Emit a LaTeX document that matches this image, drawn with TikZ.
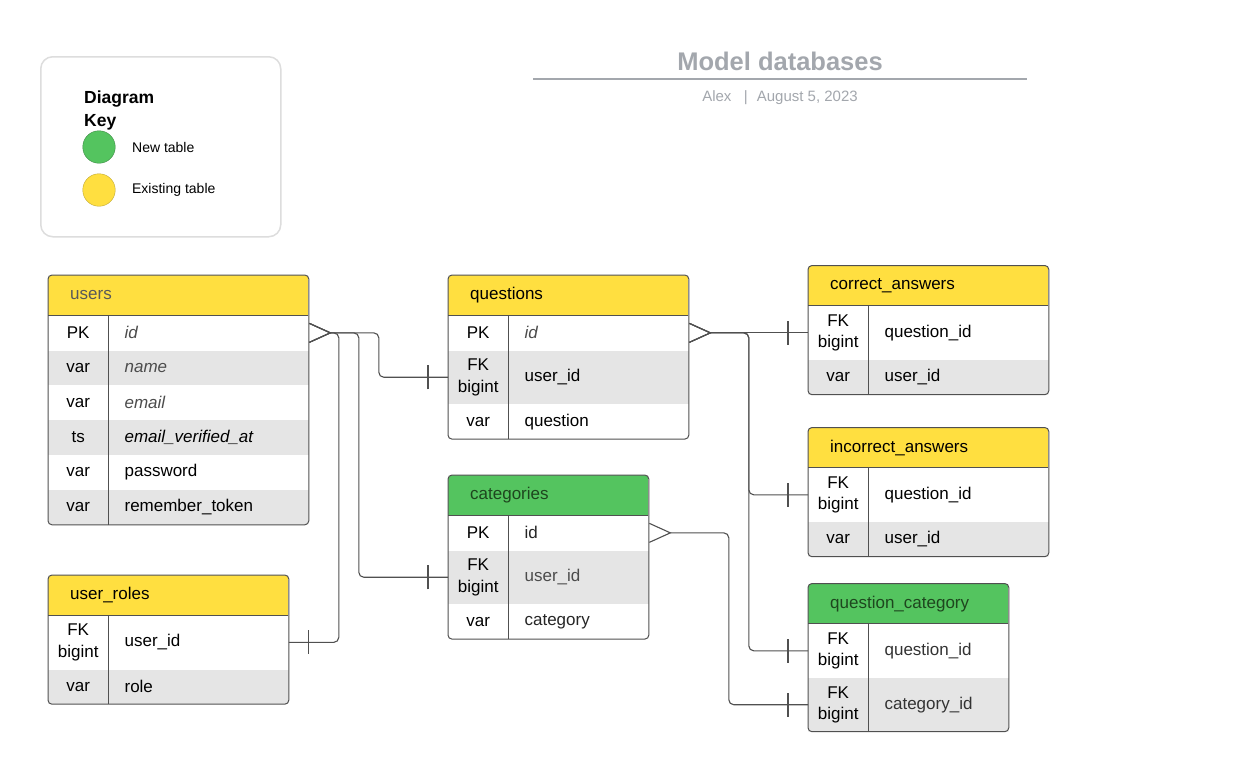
\documentclass[tikz,border=0pt]{standalone}
\usepackage{fontspec}
\setmainfont{Liberation Sans}
\usepackage{xcolor}
\usetikzlibrary{arrows.meta,positioning,decorations.markings}
\definecolor{headyellow}{RGB}{255,223,64}
\definecolor{headgreen}{RGB}{84,196,95}
\definecolor{rowgray}{RGB}{229,229,229}
\definecolor{framegray}{RGB}{80,80,80}
\definecolor{titlegray}{RGB}{163,167,173}
\definecolor{keyborder}{RGB}{221,221,221}
\definecolor{darkgreen}{RGB}{30,70,30}

\begin{document}
\begin{tikzpicture}[x=1pt, y=-1pt,
    headcell/.style={anchor=north west, minimum height=40, inner xsep=22, inner ysep=0, text width=#1, align=left, font=\fontsize{17}{21}\selectfont},
    keycell/.style={minimum width=60, minimum height=34.5, inner sep=0, align=center, font=\fontsize{17}{21.5}\selectfont},
    fieldcell/.style={minimum height=34.5, inner xsep=16, inner ysep=0, text width=#1, align=left, font=\fontsize{17}{21}\selectfont},
    tall/.style={minimum height=53.5},
    grayrow/.style={fill=rowgray},
    rule/.style={draw=framegray, line width=0.9pt},
    frame/.style={draw=framegray, line width=1pt, rounded corners=4pt},
    mask/.style={fill=white, even odd rule},
    link/.style={draw=framegray, line width=1.1pt, rounded corners=5pt},
    many/.style={arrows={Straight Barb[reversed, length=21pt, width=19pt]-}},
    one/.style={postaction={decorate, decoration={markings, mark=at position -20pt with {\draw[arrows=-, framegray, line width=1.1pt] (0,-12pt) -- (0,12pt);}}}},
]
\path[fill=white, use as bounding box] (0,0) rectangle (1247,769);

% ─────────────────────────────────────────
% Title and diagram key
% ─────────────────────────────────────────
\node[font=\bfseries\fontsize{25.5}{30}\selectfont, text=titlegray, anchor=base] (title) at (780,70.7) {Model databases};
\draw[draw=titlegray, line width=1.5pt] (533,79) -- (1027,79);
\node[font=\fontsize{15}{18}\selectfont, text=titlegray, anchor=base] (byline) at (780,101.7) {Alex\hspace{12.5pt}|\hspace{9pt}August 5, 2023};

\node[draw=keyborder, line width=1.5pt, rounded corners=12pt, minimum width=240, minimum height=180, anchor=north west] (key) at (40,56) {};
\node[font=\bfseries\fontsize{17.5}{23}\selectfont, align=left, anchor=north west, inner sep=0] (keytitle) at (84,91) {Diagram\\Key};
\node[circle, fill=headgreen, draw=headgreen!70!black, minimum size=32.5, inner sep=0] (newdot) at (99,147) {};
\node[circle, fill=headyellow, draw=headyellow!75!black, minimum size=32.5, inner sep=0] (olddot) at (99,190) {};
\node[font=\fontsize{14}{17}\selectfont, inner sep=0, right=16.5pt of newdot] (newlbl) {New table};
\node[font=\fontsize{14}{17}\selectfont, inner sep=0, right=16.5pt of olddot] (oldlbl) {Existing table};

% ─────────────────────────────────────────
% users
% ─────────────────────────────────────────
\node[headcell=216pt, fill=headyellow, text=black!65] (users) at (48,275) {users};
\node[keycell] (users-k1) [below right=0pt and 0pt of users.south west] {PK};
\node[keycell, grayrow] (users-k2) [below=0pt of users-k1] {var};
\node[keycell] (users-k3) [below=0pt of users-k2] {var};
\node[keycell, grayrow] (users-k4) [below=0pt of users-k3] {ts};
\node[keycell] (users-k5) [below=0pt of users-k4] {var};
\node[keycell, grayrow] (users-k6) [below=0pt of users-k5] {var};
\node[fieldcell=168pt, text=black!70] (users-f1) [right=0pt of users-k1] {\itshape id};
\node[fieldcell=168pt, grayrow, text=black!70] (users-f2) [right=0pt of users-k2] {\itshape name};
\node[fieldcell=168pt, text=black!70] (users-f3) [right=0pt of users-k3] {\itshape email};
\node[fieldcell=168pt, grayrow] (users-f4) [right=0pt of users-k4] {\itshape email\_verified\_at};
\node[fieldcell=168pt] (users-f5) [right=0pt of users-k5] {password};
\node[fieldcell=168pt, grayrow] (users-f6) [right=0pt of users-k6] {remember\_token};
\fill[mask] (users.north west) rectangle (users-f6.south east) [rounded corners=4pt] (users.north west) rectangle (users-f6.south east);
\draw[rule] (users.south west) -- (users.south east) (users-k1.north east) -- (users-k6.south east);
\draw[frame] (users.north west) rectangle (users-f6.south east);

% ─────────────────────────────────────────
% user_roles
% ─────────────────────────────────────────
\node[headcell=196pt, fill=headyellow] (roles) at (48,575) {user\_roles};
\node[keycell, tall] (roles-k1) [below right=0pt and 0pt of roles.south west] {FK\\bigint};
\node[keycell, grayrow] (roles-k2) [below=0pt of roles-k1] {var};
\node[fieldcell=148pt, tall] (roles-f1) [right=0pt of roles-k1] {user\_id};
\node[fieldcell=148pt, grayrow] (roles-f2) [right=0pt of roles-k2] {role};
\fill[mask] (roles.north west) rectangle (roles-f2.south east) [rounded corners=4pt] (roles.north west) rectangle (roles-f2.south east);
\draw[rule] (roles.south west) -- (roles.south east) (roles-k1.north east) -- (roles-k2.south east);
\draw[frame] (roles.north west) rectangle (roles-f2.south east);

% ─────────────────────────────────────────
% questions
% ─────────────────────────────────────────
\node[headcell=196pt, fill=headyellow] (questions) at (448,275) {questions};
\node[keycell] (questions-k1) [below right=0pt and 0pt of questions.south west] {PK};
\node[keycell, tall, grayrow] (questions-k2) [below=0pt of questions-k1] {FK\\bigint};
\node[keycell] (questions-k3) [below=0pt of questions-k2] {var};
\node[fieldcell=148pt, text=black!70] (questions-f1) [right=0pt of questions-k1] {\itshape id};
\node[fieldcell=148pt, tall, grayrow] (questions-f2) [right=0pt of questions-k2] {user\_id};
\node[fieldcell=148pt] (questions-f3) [right=0pt of questions-k3] {question};
\fill[mask] (questions.north west) rectangle (questions-f3.south east) [rounded corners=4pt] (questions.north west) rectangle (questions-f3.south east);
\draw[rule] (questions.south west) -- (questions.south east) (questions-k1.north east) -- (questions-k3.south east);
\draw[frame] (questions.north west) rectangle (questions-f3.south east);

% ─────────────────────────────────────────
% categories
% ─────────────────────────────────────────
\node[headcell=156pt, fill=headgreen, text=darkgreen] (categories) at (448,475) {categories};
\node[keycell] (categories-k1) [below right=0pt and 0pt of categories.south west] {PK};
\node[keycell, tall, grayrow] (categories-k2) [below=0pt of categories-k1] {FK\\bigint};
\node[keycell] (categories-k3) [below=0pt of categories-k2] {var};
\node[fieldcell=108pt, text=black!85] (categories-f1) [right=0pt of categories-k1] {id};
\node[fieldcell=108pt, tall, grayrow, text=black!70] (categories-f2) [right=0pt of categories-k2] {user\_id};
\node[fieldcell=108pt, text=black!85] (categories-f3) [right=0pt of categories-k3] {category};
\fill[mask] (categories.north west) rectangle (categories-f3.south east) [rounded corners=4pt] (categories.north west) rectangle (categories-f3.south east);
\draw[rule] (categories.south west) -- (categories.south east) (categories-k1.north east) -- (categories-k3.south east);
\draw[frame] (categories.north west) rectangle (categories-f3.south east);

% ─────────────────────────────────────────
% correct_answers / incorrect_answers
% ─────────────────────────────────────────
\node[headcell=196pt, fill=headyellow] (correct) at (808,265.5) {correct\_answers};
\node[keycell, tall] (correct-k1) [below right=0pt and 0pt of correct.south west] {FK\\bigint};
\node[keycell, grayrow] (correct-k2) [below=0pt of correct-k1] {var};
\node[fieldcell=148pt, tall] (correct-f1) [right=0pt of correct-k1] {question\_id};
\node[fieldcell=148pt, grayrow] (correct-f2) [right=0pt of correct-k2] {user\_id};
\fill[mask] (correct.north west) rectangle (correct-f2.south east) [rounded corners=4pt] (correct.north west) rectangle (correct-f2.south east);
\draw[rule] (correct.south west) -- (correct.south east) (correct-k1.north east) -- (correct-k2.south east);
\draw[frame] (correct.north west) rectangle (correct-f2.south east);

\node[headcell=196pt, fill=headyellow] (incorrect) at (808,427.5) {incorrect\_answers};
\node[keycell, tall] (incorrect-k1) [below right=0pt and 0pt of incorrect.south west] {FK\\bigint};
\node[keycell, grayrow] (incorrect-k2) [below=0pt of incorrect-k1] {var};
\node[fieldcell=148pt, tall] (incorrect-f1) [right=0pt of incorrect-k1] {question\_id};
\node[fieldcell=148pt, grayrow] (incorrect-f2) [right=0pt of incorrect-k2] {user\_id};
\fill[mask] (incorrect.north west) rectangle (incorrect-f2.south east) [rounded corners=4pt] (incorrect.north west) rectangle (incorrect-f2.south east);
\draw[rule] (incorrect.south west) -- (incorrect.south east) (incorrect-k1.north east) -- (incorrect-k2.south east);
\draw[frame] (incorrect.north west) rectangle (incorrect-f2.south east);

% ─────────────────────────────────────────
% question_category
% ─────────────────────────────────────────
\node[headcell=156pt, fill=headgreen, text=darkgreen] (qcat) at (808,583.5) {question\_category};
\node[keycell, tall] (qcat-k1) [below right=0pt and 0pt of qcat.south west] {FK\\bigint};
\node[keycell, tall, grayrow] (qcat-k2) [below=0pt of qcat-k1] {FK\\bigint};
\node[fieldcell=108pt, tall, text=black!80] (qcat-f1) [right=0pt of qcat-k1] {question\_id};
\node[fieldcell=108pt, tall, grayrow, text=black!80] (qcat-f2) [right=0pt of qcat-k2] {category\_id};
\fill[mask] (qcat.north west) rectangle (qcat-f2.south east) [rounded corners=4pt] (qcat.north west) rectangle (qcat-f2.south east);
\draw[rule] (qcat.south west) -- (qcat.south east) (qcat-k1.north east) -- (qcat-k2.south east);
\draw[frame] (qcat.north west) rectangle (qcat-f2.south east);

% ─────────────────────────────────────────
% Relations (many -> one)
% ─────────────────────────────────────────
\draw[link, many, one] (users-f1.east) -- ++(70,0) |- (questions-k2.west);
\draw[link, many, one] (users-f1.east) -- ++(50,0) |- (categories-k2.west);
\draw[link, many, one] (users-f1.east) -- ++(30,0) |- (roles-f1.east);
\draw[link, many, one] (questions-f1.east) -- (correct-k1.west);
\draw[link, many, one] (questions-f1.east) -- ++(60,0) |- (incorrect-k1.west);
\draw[link, many, one] (questions-f1.east) -- ++(60,0) |- (qcat-k1.west);
\draw[link, many, one] (categories-f1.east) -- ++(80,0) |- (qcat-k2.west);

\end{tikzpicture}
\end{document}
